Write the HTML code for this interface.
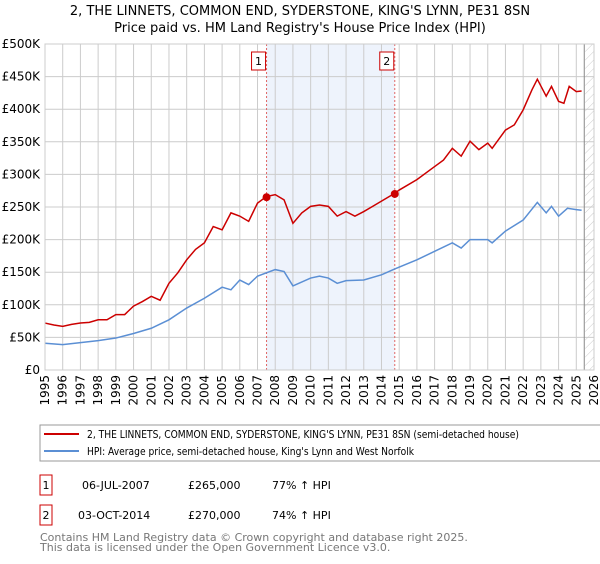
<!DOCTYPE html>
<html><head><meta charset="utf-8"><style>
body{margin:0;background:#fff;font-family:"DejaVu Sans","Liberation Sans",sans-serif;}
svg text{font-family:"DejaVu Sans","Liberation Sans",sans-serif;}
</style></head><body>
<svg id="chart" width="600" height="560" xmlns="http://www.w3.org/2000/svg">
<defs><pattern id="hatch" width="6" height="6" patternUnits="userSpaceOnUse" patternTransform="rotate(45)"><line x1="0" y1="0" x2="0" y2="6" stroke="#ccc" stroke-width="1"/></pattern></defs>
<text x="300" y="15" text-anchor="middle" font-size="13">2, THE LINNETS, COMMON END, SYDERSTONE, KING'S LYNN, PE31 8SN</text>
<text x="300" y="32" text-anchor="middle" font-size="13">Price paid vs. HM Land Registry's House Price Index (HPI)</text>
<g id="plot"></g>
<g>
<rect x="40" y="425" width="562" height="36" fill="#fff" stroke="#999"/>
<line x1="44" y1="434" x2="79" y2="434" stroke="#cc0000" stroke-width="2"/>
<text x="87" y="438" font-size="11" textLength="432" lengthAdjust="spacingAndGlyphs">2, THE LINNETS, COMMON END, SYDERSTONE, KING'S LYNN, PE31 8SN (semi-detached house)</text>
<line x1="44" y1="451" x2="79" y2="451" stroke="#5b8fd4" stroke-width="2"/>
<text x="87" y="455" font-size="11" textLength="327" lengthAdjust="spacingAndGlyphs">HPI: Average price, semi-detached house, King's Lynn and West Norfolk</text>
</g>
<g font-size="11">
<rect x="40" y="475" width="12" height="20" fill="#fff" stroke="#cc0000"/><text x="46" y="489" text-anchor="middle">1</text>
<text x="82" y="489">06-JUL-2007</text><text x="188" y="489">£265,000</text><text x="272" y="489">77% ↑ HPI</text>
</g>
<g font-size="11">
<rect x="40" y="505" width="12" height="20" fill="#fff" stroke="#cc0000"/><text x="46" y="519" text-anchor="middle">2</text>
<text x="78" y="519">03-OCT-2014</text><text x="188" y="519">£270,000</text><text x="272" y="519">74% ↑ HPI</text>
</g>
<text x="40" y="541" font-size="11" fill="#777">Contains HM Land Registry data © Crown copyright and database right 2025.</text>
<text x="40" y="551" font-size="11" fill="#777">This data is licensed under the Open Government Licence v3.0.</text>
</svg>
<script>
const redYears=[1995,1995.5,1996,1996.5,1997,1997.5,1998,1998.5,1999,1999.5,2000,2000.5,2001,2001.5,2002,2002.5,2003,2003.5,2004,2004.5,2005,2005.5,2006,2006.5,2007,2007.5,2008,2008.5,2009,2009.5,2010,2010.5,2011,2011.5,2012,2012.5,2013,2013.5,2014,2014.75,2015,2016,2017,2017.5,2018,2018.5,2019,2019.5,2020,2020.25,2021,2021.5,2022,2022.5,2022.8,2023.3,2023.6,2024,2024.3,2024.6,2025,2025.3];
const redValues=[72,69,67,70,72,73,77,77,85,85,98,105,113,107,133,149,169,185,195,220,215,241,236,228,256,266,269,261,225,241,251,253,251,236,243,236,243,251,259,271,276,292,312,322,340,328,351,338,348,340,368,376,399,430,446,420,435,412,409,435,427,428];
const blueYears=[1995,1996,1997,1998,1999,2000,2001,2002,2003,2004,2005,2005.5,2006,2006.5,2007,2008,2008.5,2009,2010,2010.5,2011,2011.5,2012,2013,2014,2014.75,2016,2017,2018,2018.5,2019,2020,2020.25,2021,2022,2022.8,2023.3,2023.6,2024,2024.5,2025,2025.3];
const blueValues=[41,39,42,45,49,56,64,77,95,110,127,123,138,131,144,154,151,129,141,144,141,133,137,138,146,155,169,182,195,187,200,200,195,213,230,257,241,251,236,248,246,245];
const sales=[[2007.51,265],[2014.75,270]];
const yTicks=[0,50,100,150,200,250,300,350,400,450,500];
const xTicks=[1995,1996,1997,1998,1999,2000,2001,2002,2003,2004,2005,2006,2007,2008,2009,2010,2011,2012,2013,2014,2015,2016,2017,2018,2019,2020,2021,2022,2023,2024,2025,2026];
const L=45,R=594,T=44,B=370;
const x=v=>L+(v-1995)/(2026-1995)*(R-L);
const y=v=>B-v/500*(B-T);
const NS="http://www.w3.org/2000/svg";
const g=document.getElementById('plot');
function mk(t,a){const e=document.createElementNS(NS,t);for(const k in a)e.setAttribute(k,a[k]);g.appendChild(e);return e;}
let e=mk('rect',{x:x(2007.51),y:T,width:x(2014.75)-x(2007.51),height:B-T,fill:'#eef3fc'});


e=mk('rect',{x:x(2025.5),y:T,width:R-x(2025.5),height:B-T,fill:'url(#hatch)'});


yTicks.forEach(v=>{
 e=mk('line',{x1:L,x2:R,y1:y(v),y2:y(v),stroke:'#ccc'});
 
 
 e=mk('text',{x:L-5,y:y(v)+4,'text-anchor':'end','font-size':'12'});e.textContent=v===0?'£0':'£'+v+'K';
 
 
});
xTicks.forEach(v=>{
 e=mk('line',{x1:x(v),x2:x(v),y1:T,y2:B,stroke:'#ccc'});
 
 
 e=mk('text',{x:0,y:0,'text-anchor':'end','font-size':'12',transform:`translate(${x(v)+4},${B+5}) rotate(-90)`});e.textContent=v;
 
 
});
e=mk('line',{x1:x(2025.45),x2:x(2025.45),y1:T,y2:B,stroke:'#888'});


sales.forEach((s,i)=>{
 e=mk('line',{x1:x(s[0]),x2:x(s[0]),y1:T,y2:B,stroke:'#e06666','stroke-dasharray':'2,2'});
 
 
 e=mk('rect',{x:x(s[0])-15,y:T+8,width:14,height:18,fill:'#fff',stroke:'#cc0000'});
 
 
 e=mk('text',{x:x(s[0])-8,y:T+21,'text-anchor':'middle','font-size':'11'});e.textContent=i+1;
 
 
});
e=mk('path',{d:blueYears.map((v,i)=>(i?'L':'M')+x(v)+','+y(blueValues[i])).join(''),fill:'none',stroke:'#5b8fd4','stroke-width':1.5});


e=mk('path',{d:redYears.map((v,i)=>(i?'L':'M')+x(v)+','+y(redValues[i])).join(''),fill:'none',stroke:'#cc0000','stroke-width':1.5});


sales.forEach(s=>{
 e=mk('circle',{cx:x(s[0]),cy:y(s[1]),r:4,fill:'#cc0000'});
 
 
});
e=mk('rect',{x:L,y:T,width:R-L,height:B-T,fill:'none',stroke:'#ccc'});


</script>
</body></html>
